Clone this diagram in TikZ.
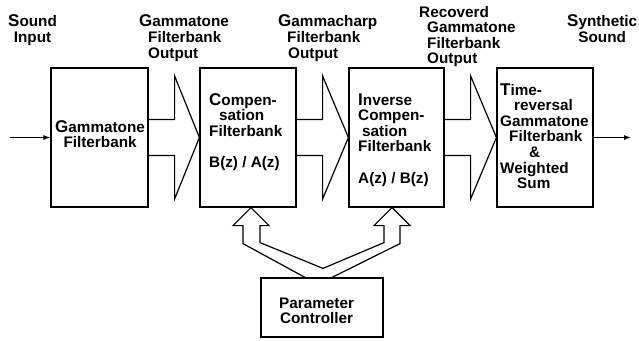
\documentclass[tikz,border=0pt]{standalone}
\usepackage{fontspec}
\setmainfont{Liberation Sans}
\usetikzlibrary{calc,arrows.meta}
\newcommand{\initial}[1]{{\fontsize{17}{15.5}\selectfont #1}}
\tikzset{
  blk/.style={draw,line width=1.2pt,inner sep=0pt},
  lbl/.style={anchor=base west,inner sep=0pt,font=\fontsize{15.3}{15.5}\selectfont\bfseries},
  bigarr/.style={to path={let \p1=(\tikztostart.east), \p2=(\tikztotarget.west) in
    (\x1,\y1+18pt) -- (\x1+26pt,\y1+18pt) -- (\x1+26pt,\y1+61.5pt) -- (\x2,\y2)
    -- (\x1+26pt,\y1-61.5pt) -- (\x1+26pt,\y1-18pt) -- (\x1,\y1-18pt)}},
  sig/.style={line width=1.1pt,-{Latex[length=7pt,width=5pt]}}
}
\begin{document}
\begin{tikzpicture}[x=1pt,y=-1pt,line join=miter]
\useasboundingbox (0,0) rectangle (639,340);
% blocks
\node[blk,minimum width=97pt,minimum height=139pt] (b1) at (99.5,137.5) {};
\node[blk,minimum width=96pt,minimum height=139pt] (b2) at (248,137.5) {};
\node[blk,minimum width=95pt,minimum height=139pt] (b3) at (396.5,137.5) {};
\node[blk,minimum width=96pt,minimum height=139pt] (b4) at (545,137.5) {};
\node[blk,minimum width=122pt,minimum height=59pt] (pc) at (322,307.5) {};
% big hollow arrows
\draw[line width=1.2pt] (b1) to[bigarr] (b2);
\draw[line width=1.2pt] (b2) to[bigarr] (b3);
\draw[line width=1.2pt] (b3) to[bigarr] (b4);
% signal in / out
\coordinate (in) at (10,137.5);
\coordinate (out) at (631,137.5);
\draw[sig] (in) -- (b1.west);
\draw[sig] (b4.east) -- (out);
% controller arrows
\coordinate (t2) at ($(b2.south)+(3,0)$);
\coordinate (t3) at ($(b3.south)+(-4.5,0)$);
\draw[line width=1.2pt] ($(pc.north)+(-17,0)$) -- ($(t2)+(-8,36)$) -- ($(t2)+(-8,18)$)
  -- ($(t2)+(-18,18)$) -- (t2) -- ($(t2)+(18,18)$) -- ($(t2)+(9,18)$) -- ($(t2)+(9,35)$)
  -- ($(pc.north)+(1,-9)$) -- ($(t3)+(-8,35)$) -- ($(t3)+(-8,18)$) -- ($(t3)+(-18,18)$)
  -- (t3) -- ($(t3)+(18,18)$) -- ($(t3)+(8,18)$) -- ($(t3)+(8,36)$) -- ($(pc.north)+(10,0)$);
% top labels
\node[lbl] (l1) at (8,27) {\begin{tabular}[t]{@{}c@{}}\initial{S}ound\\Input\end{tabular}};
\node[lbl] (l2) at (139,27) {\begin{tabular}[t]{@{}l@{}}\initial{G}ammatone\\\hspace*{9pt}Filterbank\\\hspace*{9pt}Output\end{tabular}};
\node[lbl] (l3) at (278,27) {\begin{tabular}[t]{@{}l@{}}\initial{G}ammacharp\\\hspace*{9pt}Filterbank\\\hspace*{10pt}Output\end{tabular}};
\node[lbl] (l4) at (419,17) {\begin{tabular}[t]{@{}l@{}}Recoverd\\\hspace*{8pt}Gammatone\\\hspace*{8pt}Filterbank\\\hspace*{8pt}Output\end{tabular}};
\node[lbl] (l5) at (567,27) {\begin{tabular}[t]{@{}c@{}}\initial{S}ynthetic\\Sound\end{tabular}};
% block texts
\node[lbl] (t1) at (55,132) {\begin{tabular}[t]{@{}c@{}}\initial{G}ammatone\\Filterbank\end{tabular}};
\node[lbl] (tx2) at (209,105) {\begin{tabular}[t]{@{}l@{}}\initial{C}ompen-\\\hspace*{10pt}sation\\Filterbank\\ \\B(z) / A(z)\end{tabular}};
\node[lbl] (tx3) at (358,105) {\begin{tabular}[t]{@{}l@{}}\initial{I}nverse\\Compen-\\\hspace*{4pt}sation\\Filterbank\\ \\A(z) / B(z)\end{tabular}};
\node[lbl] (tx4) at (500,95) {\begin{tabular}[t]{@{}l@{}}\initial{T}ime-\\\hspace*{14pt}reversal\\Gammatone\\\hspace*{9pt}Filterbank\\\hspace*{29pt}\&\\Weighted\\\hspace*{17pt}Sum\end{tabular}};
\node[lbl] (tpc) at (279,308) {\begin{tabular}[t]{@{}c@{}}Parameter\\Controller\end{tabular}};
\end{tikzpicture}
\end{document}
